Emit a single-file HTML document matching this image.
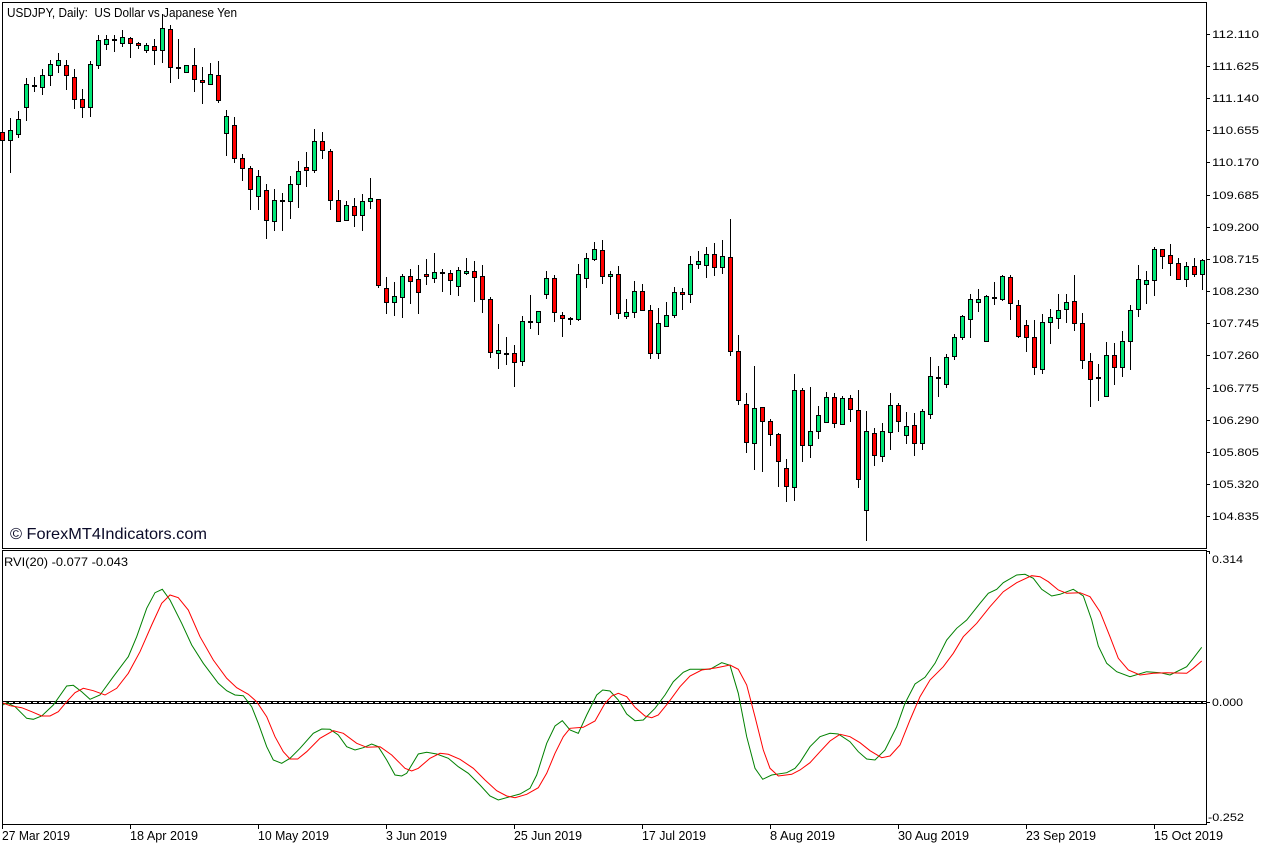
<!DOCTYPE html>
<html><head><meta charset="utf-8"><style>
html,body{margin:0;padding:0;background:#fff;width:1276px;height:848px;overflow:hidden}
svg{display:block}
text{font-family:"Liberation Sans",sans-serif;fill:#000}
</style></head><body>
<svg width="1276" height="848" viewBox="0 0 1276 848" xmlns="http://www.w3.org/2000/svg">
<rect x="0" y="0" width="1276" height="848" fill="#fff"/>
<!-- panels -->
<rect x="2.5" y="2.5" width="1204" height="546" fill="none" stroke="#000" stroke-width="1"/>
<rect x="2.5" y="550.5" width="1204" height="274" fill="none" stroke="#000" stroke-width="1"/>

<!-- wicks -->
<path fill="none" stroke="#000" stroke-width="1" d="M2.5 128V143M10.5 118V173M18.5 111V138M26.5 78V121M34.5 77V92M42.5 69V95M50.5 60V86M58.5 53V73M66.5 60V90M74.5 69V109M82.5 89V118M90.5 61V117M98.5 35V69M106.5 35V50M114.5 35V52M122.5 30V47M130.5 37V58M138.5 42V49M146.5 43V53M154.5 39V65M162.5 14V63M170.5 25V83M178.5 39V79M186.5 65V72M194.5 48V92M202.5 67V104M210.5 63V84M218.5 61V103M226.5 110V156M234.5 117V163M242.5 154V181M250.5 166V210M258.5 170V210M266.5 184V239M274.5 189V231M282.5 193V231M290.5 176V219M298.5 161V208M306.5 152V187M314.5 129V173M322.5 132V159M330.5 149V210M338.5 190V222M346.5 201V221M354.5 198V227M362.5 194V231M370.5 178V209M378.5 199V288M386.5 277V314M394.5 282V316M402.5 274V318M410.5 269V304M418.5 265V314M426.5 259V285M434.5 253V283M442.5 269V292M450.5 270V295M458.5 267V296M466.5 258V275M474.5 261V302M482.5 265V313M490.5 297V358M498.5 324V369M506.5 337V365M514.5 345V387M522.5 316V366M530.5 295V329M538.5 311V335M546.5 271V299M554.5 275V322M562.5 312V337M570.5 317V325M578.5 264V321M586.5 253V288M594.5 242V261M602.5 240V284M610.5 271V315M618.5 266V319M626.5 299V319M634.5 281V318M642.5 284V311M650.5 305V359M658.5 308V359M666.5 302V326M674.5 287V318M682.5 288V310M690.5 256V303M698.5 251V269M706.5 247V278M714.5 243V276M722.5 240V274M730.5 219V356M738.5 335V405M746.5 393V453M754.5 366V470M762.5 407V472M770.5 419V446M778.5 433V487M786.5 459V502M794.5 374V501M802.5 388V462M810.5 387V458M818.5 406V439M826.5 392V423M834.5 393V428M842.5 396V424M850.5 395V422M858.5 390V488M866.5 411V541M874.5 428V466M882.5 423V462M890.5 393V450M898.5 403V432M906.5 412V444M914.5 413V456M922.5 409V450M930.5 357V419M938.5 366V397M946.5 354V388M954.5 334V360M962.5 315V340M970.5 294V338M978.5 289V312M986.5 295V342M994.5 282V305M1002.5 275V301M1010.5 275V320M1018.5 300V338M1026.5 320V352M1034.5 320V375M1042.5 314V374M1050.5 309V344M1058.5 294V329M1066.5 294V323M1074.5 275V331M1082.5 313V369M1090.5 353V407M1098.5 364V401M1106.5 342V396M1114.5 343V385M1122.5 331V377M1130.5 305V370M1138.5 265V317M1146.5 271V304M1154.5 247V296M1162.5 249V269M1170.5 244V276M1178.5 258V280M1186.5 262V287M1194.5 258V277M1202.5 259V290"/>

<!-- bull bodies -->
<g fill="#00e676" stroke="#000" stroke-width="1">
<rect x="8.5" y="130.5" width="4" height="10"/>
<rect x="16.5" y="119.5" width="4" height="15"/>
<rect x="24.5" y="84.5" width="4" height="23"/>
<rect x="40.5" y="75.5" width="4" height="12"/>
<rect x="48.5" y="64.5" width="4" height="11"/>
<rect x="56.5" y="60.5" width="4" height="5"/>
<rect x="88.5" y="64.5" width="4" height="43"/>
<rect x="96.5" y="40.5" width="4" height="25"/>
<rect x="104.5" y="39.5" width="4" height="5"/>
<rect x="120.5" y="37.5" width="4" height="6"/>
<rect x="144.5" y="45.5" width="4" height="5"/>
<rect x="160.5" y="28.5" width="4" height="22"/>
<rect x="184.5" y="65.5" width="4" height="7"/>
<rect x="208.5" y="74.5" width="4" height="10"/>
<rect x="224.5" y="116.5" width="4" height="17"/>
<rect x="256.5" y="176.5" width="4" height="20"/>
<rect x="272.5" y="200.5" width="4" height="21"/>
<rect x="288.5" y="184.5" width="4" height="17"/>
<rect x="296.5" y="171.5" width="4" height="13"/>
<rect x="312.5" y="141.5" width="4" height="29"/>
<rect x="344.5" y="205.5" width="4" height="15"/>
<rect x="360.5" y="201.5" width="4" height="14"/>
<rect x="368.5" y="198.5" width="4" height="3"/>
<rect x="392.5" y="296.5" width="4" height="6"/>
<rect x="400.5" y="276.5" width="4" height="21"/>
<rect x="432.5" y="272.5" width="4" height="6"/>
<rect x="456.5" y="270.5" width="4" height="16"/>
<rect x="464.5" y="271.5" width="4" height="2"/>
<rect x="496.5" y="350.5" width="4" height="3"/>
<rect x="520.5" y="321.5" width="4" height="40"/>
<rect x="536.5" y="311.5" width="4" height="11"/>
<rect x="544.5" y="278.5" width="4" height="16"/>
<rect x="576.5" y="274.5" width="4" height="45"/>
<rect x="584.5" y="258.5" width="4" height="20"/>
<rect x="592.5" y="249.5" width="4" height="10"/>
<rect x="608.5" y="274.5" width="4" height="2"/>
<rect x="624.5" y="312.5" width="4" height="4"/>
<rect x="632.5" y="291.5" width="4" height="21"/>
<rect x="656.5" y="323.5" width="4" height="30"/>
<rect x="664.5" y="315.5" width="4" height="11"/>
<rect x="672.5" y="292.5" width="4" height="23"/>
<rect x="688.5" y="264.5" width="4" height="30"/>
<rect x="696.5" y="261.5" width="4" height="3"/>
<rect x="704.5" y="254.5" width="4" height="11"/>
<rect x="720.5" y="256.5" width="4" height="11"/>
<rect x="752.5" y="408.5" width="4" height="35"/>
<rect x="792.5" y="390.5" width="4" height="97"/>
<rect x="808.5" y="431.5" width="4" height="14"/>
<rect x="816.5" y="415.5" width="4" height="16"/>
<rect x="824.5" y="397.5" width="4" height="25"/>
<rect x="840.5" y="398.5" width="4" height="26"/>
<rect x="864.5" y="431.5" width="4" height="79"/>
<rect x="880.5" y="431.5" width="4" height="25"/>
<rect x="888.5" y="405.5" width="4" height="27"/>
<rect x="904.5" y="426.5" width="4" height="9"/>
<rect x="920.5" y="411.5" width="4" height="32"/>
<rect x="928.5" y="376.5" width="4" height="38"/>
<rect x="944.5" y="357.5" width="4" height="27"/>
<rect x="952.5" y="337.5" width="4" height="19"/>
<rect x="960.5" y="316.5" width="4" height="21"/>
<rect x="968.5" y="299.5" width="4" height="20"/>
<rect x="976.5" y="299.5" width="4" height="3"/>
<rect x="984.5" y="296.5" width="4" height="45"/>
<rect x="1000.5" y="276.5" width="4" height="23"/>
<rect x="1040.5" y="322.5" width="4" height="47"/>
<rect x="1048.5" y="317.5" width="4" height="5"/>
<rect x="1056.5" y="310.5" width="4" height="8"/>
<rect x="1064.5" y="302.5" width="4" height="7"/>
<rect x="1104.5" y="355.5" width="4" height="41"/>
<rect x="1120.5" y="341.5" width="4" height="26"/>
<rect x="1128.5" y="310.5" width="4" height="31"/>
<rect x="1136.5" y="279.5" width="4" height="30"/>
<rect x="1144.5" y="280.5" width="4" height="4"/>
<rect x="1152.5" y="249.5" width="4" height="31"/>
<rect x="1184.5" y="266.5" width="4" height="13"/>
<rect x="1200.5" y="260.5" width="4" height="14"/>
</g>

<!-- bear bodies -->
<g fill="#ff0000" stroke="#000" stroke-width="1">
<rect x="0.5" y="132.5" width="4" height="8"/>
<rect x="64.5" y="65.5" width="4" height="10"/>
<rect x="72.5" y="77.5" width="4" height="22"/>
<rect x="80.5" y="99.5" width="4" height="8"/>
<rect x="128.5" y="38.5" width="4" height="5"/>
<rect x="136.5" y="43.5" width="4" height="2"/>
<rect x="152.5" y="46.5" width="4" height="4"/>
<rect x="168.5" y="29.5" width="4" height="38"/>
<rect x="192.5" y="65.5" width="4" height="14"/>
<rect x="200.5" y="80.5" width="4" height="2"/>
<rect x="216.5" y="75.5" width="4" height="25"/>
<rect x="232.5" y="125.5" width="4" height="33"/>
<rect x="240.5" y="158.5" width="4" height="10"/>
<rect x="248.5" y="168.5" width="4" height="21"/>
<rect x="264.5" y="190.5" width="4" height="30"/>
<rect x="304.5" y="167.5" width="4" height="3"/>
<rect x="320.5" y="141.5" width="4" height="9"/>
<rect x="328.5" y="151.5" width="4" height="49"/>
<rect x="336.5" y="200.5" width="4" height="21"/>
<rect x="352.5" y="206.5" width="4" height="9"/>
<rect x="376.5" y="199.5" width="4" height="86"/>
<rect x="384.5" y="288.5" width="4" height="14"/>
<rect x="408.5" y="276.5" width="4" height="5"/>
<rect x="416.5" y="279.5" width="4" height="13"/>
<rect x="424.5" y="274.5" width="4" height="2"/>
<rect x="448.5" y="273.5" width="4" height="7"/>
<rect x="472.5" y="271.5" width="4" height="6"/>
<rect x="480.5" y="276.5" width="4" height="23"/>
<rect x="488.5" y="299.5" width="4" height="53"/>
<rect x="512.5" y="353.5" width="4" height="9"/>
<rect x="552.5" y="278.5" width="4" height="34"/>
<rect x="560.5" y="315.5" width="4" height="3"/>
<rect x="600.5" y="250.5" width="4" height="26"/>
<rect x="616.5" y="274.5" width="4" height="39"/>
<rect x="640.5" y="291.5" width="4" height="19"/>
<rect x="648.5" y="310.5" width="4" height="43"/>
<rect x="680.5" y="292.5" width="4" height="2"/>
<rect x="712.5" y="254.5" width="4" height="13"/>
<rect x="728.5" y="257.5" width="4" height="94"/>
<rect x="736.5" y="351.5" width="4" height="49"/>
<rect x="744.5" y="404.5" width="4" height="38"/>
<rect x="760.5" y="407.5" width="4" height="14"/>
<rect x="768.5" y="421.5" width="4" height="13"/>
<rect x="776.5" y="434.5" width="4" height="27"/>
<rect x="784.5" y="468.5" width="4" height="18"/>
<rect x="800.5" y="390.5" width="4" height="55"/>
<rect x="832.5" y="397.5" width="4" height="26"/>
<rect x="848.5" y="398.5" width="4" height="11"/>
<rect x="856.5" y="410.5" width="4" height="69"/>
<rect x="872.5" y="433.5" width="4" height="22"/>
<rect x="896.5" y="405.5" width="4" height="16"/>
<rect x="912.5" y="425.5" width="4" height="18"/>
<rect x="1008.5" y="277.5" width="4" height="26"/>
<rect x="1016.5" y="305.5" width="4" height="31"/>
<rect x="1024.5" y="325.5" width="4" height="12"/>
<rect x="1032.5" y="337.5" width="4" height="30"/>
<rect x="1072.5" y="301.5" width="4" height="22"/>
<rect x="1080.5" y="323.5" width="4" height="37"/>
<rect x="1088.5" y="361.5" width="4" height="18"/>
<rect x="1112.5" y="355.5" width="4" height="12"/>
<rect x="1160.5" y="249.5" width="4" height="7"/>
<rect x="1168.5" y="255.5" width="4" height="8"/>
<rect x="1176.5" y="263.5" width="4" height="16"/>
<rect x="1192.5" y="266.5" width="4" height="8"/>
</g>

<!-- doji -->
<g fill="#000">
<rect x="32" y="85" width="5" height="2"/>
<rect x="112" y="39" width="5" height="2"/>
<rect x="176" y="67" width="5" height="2"/>
<rect x="280" y="200" width="5" height="2"/>
<rect x="440" y="272" width="5" height="2"/>
<rect x="504" y="353" width="5" height="2"/>
<rect x="528" y="321" width="5" height="2"/>
<rect x="568" y="318" width="5" height="2"/>
<rect x="936" y="377" width="5" height="2"/>
<rect x="992" y="297" width="5" height="2"/>
<rect x="1096" y="377" width="5" height="2"/>
</g>

<!-- title & watermark -->
<text x="7" y="17" font-size="13" textLength="230" lengthAdjust="spacingAndGlyphs" xml:space="preserve">USDJPY, Daily:  US Dollar vs Japanese Yen</text>
<text x="10" y="539" font-size="16" textLength="197" lengthAdjust="spacingAndGlyphs" style="fill:#0a0a28">© ForexMT4Indicators.com</text>

<!-- price axis -->
<path fill="none" stroke="#000" stroke-width="1" d="M1206 34.5H1210M1206 66.5H1210M1206 98.5H1210M1206 130.5H1210M1206 162.5H1210M1206 195.5H1210M1206 227.5H1210M1206 259.5H1210M1206 291.5H1210M1206 323.5H1210M1206 355.5H1210M1206 388.5H1210M1206 420.5H1210M1206 452.5H1210M1206 484.5H1210M1206 516.5H1210"/>
<g font-size="11">
<text x="1212" y="38" textLength="47" lengthAdjust="spacingAndGlyphs">112.110</text>
<text x="1212" y="70" textLength="47" lengthAdjust="spacingAndGlyphs">111.625</text>
<text x="1212" y="102" textLength="47" lengthAdjust="spacingAndGlyphs">111.140</text>
<text x="1212" y="134" textLength="47" lengthAdjust="spacingAndGlyphs">110.655</text>
<text x="1212" y="166" textLength="47" lengthAdjust="spacingAndGlyphs">110.170</text>
<text x="1212" y="199" textLength="47" lengthAdjust="spacingAndGlyphs">109.685</text>
<text x="1212" y="231" textLength="47" lengthAdjust="spacingAndGlyphs">109.200</text>
<text x="1212" y="263" textLength="47" lengthAdjust="spacingAndGlyphs">108.715</text>
<text x="1212" y="295" textLength="47" lengthAdjust="spacingAndGlyphs">108.230</text>
<text x="1212" y="327" textLength="47" lengthAdjust="spacingAndGlyphs">107.745</text>
<text x="1212" y="359" textLength="47" lengthAdjust="spacingAndGlyphs">107.260</text>
<text x="1212" y="392" textLength="47" lengthAdjust="spacingAndGlyphs">106.775</text>
<text x="1212" y="424" textLength="47" lengthAdjust="spacingAndGlyphs">106.290</text>
<text x="1212" y="456" textLength="47" lengthAdjust="spacingAndGlyphs">105.805</text>
<text x="1212" y="488" textLength="47" lengthAdjust="spacingAndGlyphs">105.320</text>
<text x="1212" y="520" textLength="47" lengthAdjust="spacingAndGlyphs">104.835</text>
</g>

<!-- indicator -->
<text x="4" y="566" font-size="12" textLength="124" lengthAdjust="spacingAndGlyphs">RVI(20) -0.077 -0.043</text>
<rect x="3" y="701" width="1203" height="3" fill="#000"/>
<line x1="3" y1="702.5" x2="1206" y2="702.5" stroke="#fff" stroke-width="1" stroke-dasharray="4 2"/>
<polyline fill="none" stroke="#008000" stroke-width="1" points="3,705 6.7,702.7 15,706.7 26.7,718.3 33.3,719.3 41.7,716 53.3,705 66.7,686 73.3,685.3 81.7,691.7 90,699.3 100,695 113.3,676.7 128.3,656.7 136.7,636.7 146.7,608.3 155,592.7 162.3,589.3 170,600 181.7,623.3 191.7,645 203.3,663.3 218.3,683.3 226.7,690.7 235,695 243.3,695.7 251.7,706.7 258.3,723.3 266.7,746.7 273.3,760 281.7,763.3 290,758.3 300,748.3 313.3,733.3 321.7,729 330,729.3 338.3,735 346.7,746.7 355,750 363.3,747.7 371.7,744 378.3,746.7 386.7,760 395,775 401.7,776 406.7,773.3 418.3,754 426.7,752.3 436.7,754 448.3,758.3 458.3,766.7 468.3,773.3 480,785 490,796 498.3,800 510,796.7 520,794 530,788.3 536.7,775 546.7,743.3 555,726 562.3,720.7 570,730 578.3,733.3 586.7,715 596.7,695 602.7,690 610,691 618.3,700 626.7,714 635,720.7 643.3,720 655,708.3 665,695 673.3,681.7 683.3,672.3 690,669.3 710,669.3 721.7,662.7 730,665.3 738.3,693.3 746.7,736.7 755,768.3 762.7,779.3 771.7,775 786.7,772.7 795,768.3 800,762.3 810,746.7 820,736.7 830,733.3 838.3,734 850,741.7 858.3,751.7 866.7,759 875,760 885,750 896.7,726.7 905,703.3 915,684 925,677.3 935,663.3 946.7,640 956.7,628.3 966.7,620 980,603.3 988.3,593.3 996.7,589.3 1003.3,582.7 1016.7,575 1025,574.3 1033.3,578.3 1041.7,589.3 1051.7,596 1060,594.3 1073.3,589.3 1083.3,596 1091.7,620 1098.3,646 1106.7,663.3 1116.7,671.7 1130,676.7 1146.7,671.7 1160,672.7 1170,675 1186.7,666.7 1193.3,658.3 1201.7,647.3"/>
<polyline fill="none" stroke="#ff0000" stroke-width="1" points="3,703 10,705.7 21.7,707.7 31.7,711.7 41.7,716 50,716 58.3,711.7 66.7,701.7 75,692.7 83.3,688.3 93.3,690.7 105,695 116.7,688.3 128.3,673.3 140,651.7 151.7,625 161.7,603.3 170,595 178.3,597.7 188.3,610 200,636.7 213.3,660 226.7,678.3 236.7,687.7 248.3,694.3 256.7,701.7 266.7,716.7 275,736.7 283.3,751.7 290,759 297.7,759 306.7,751.7 320,738.3 333.3,730.7 343.3,733.3 356.7,743.3 366.7,747.3 380,746.7 391.7,755 400,763.3 405,768.3 411.7,771 418.3,768.3 430,758.3 440,753.3 448.3,754.3 460,759.3 473.3,768.3 485,780 496.7,790.7 506.7,796 515,797.7 526.7,794.3 538.3,787.7 546.7,773.3 555,753.3 563.3,736.7 570,728.3 583.3,727.3 595,721 605,703.3 611.7,696 618.3,693.3 626.7,696.7 635,707.3 645,716 651.7,717.7 658.3,715 668.3,702.7 680,686.7 690,676 701.7,670 716.7,667.7 730,665 738.3,669.3 746.7,685 755,716.7 763.3,750 770,768.3 778.3,776 791.7,774.3 800,770 810,762.7 820,751.7 830,741 840,734.3 850,736.7 860,742.7 870,750.7 881.7,757.7 890,756 900,745 910,720 920,696.7 930,680 943.3,666.7 953.3,653.3 963.3,636.7 976.7,623.3 990,606.7 1003.3,591.7 1016.7,582.7 1031.7,575.7 1040,576.7 1048.3,581.7 1058.3,590 1066.7,593.3 1080,592.7 1090,596.7 1100,611.7 1110,636.7 1118.3,658.3 1128.3,670 1140,675 1153.3,673.3 1166.7,672.7 1186.7,673.3 1193.3,668.3 1201.7,661"/>

<!-- indicator axis -->
<path fill="none" stroke="#000" stroke-width="1" d="M1206 551.5H1209.5V554M1206 702.5H1210M1206 822.5H1210"/>
<g font-size="11">
<text x="1212" y="563" textLength="31" lengthAdjust="spacingAndGlyphs">0.314</text>
<text x="1212" y="706" textLength="31" lengthAdjust="spacingAndGlyphs">0.000</text>
<text x="1208" y="821" textLength="36" lengthAdjust="spacingAndGlyphs">-0.252</text>
</g>

<!-- date axis -->
<path fill="none" stroke="#000" stroke-width="1" d="M2.5 824V829M130.5 824V829M258.5 824V829M386.5 824V829M514.5 824V829M642.5 824V829M770.5 824V829M898.5 824V829M1026.5 824V829M1154.5 824V829"/>
<g font-size="13">
<text x="2" y="840" textLength="68" lengthAdjust="spacingAndGlyphs">27 Mar 2019</text>
<text x="130" y="840" textLength="68" lengthAdjust="spacingAndGlyphs">18 Apr 2019</text>
<text x="258" y="840" textLength="71" lengthAdjust="spacingAndGlyphs">10 May 2019</text>
<text x="386" y="840" textLength="61" lengthAdjust="spacingAndGlyphs">3 Jun 2019</text>
<text x="514" y="840" textLength="68" lengthAdjust="spacingAndGlyphs">25 Jun 2019</text>
<text x="642" y="840" textLength="64" lengthAdjust="spacingAndGlyphs">17 Jul 2019</text>
<text x="770" y="840" textLength="65" lengthAdjust="spacingAndGlyphs">8 Aug 2019</text>
<text x="898" y="840" textLength="71" lengthAdjust="spacingAndGlyphs">30 Aug 2019</text>
<text x="1026" y="840" textLength="70" lengthAdjust="spacingAndGlyphs">23 Sep 2019</text>
<text x="1154" y="840" textLength="69" lengthAdjust="spacingAndGlyphs">15 Oct 2019</text>
</g>
</svg>
</body></html>
